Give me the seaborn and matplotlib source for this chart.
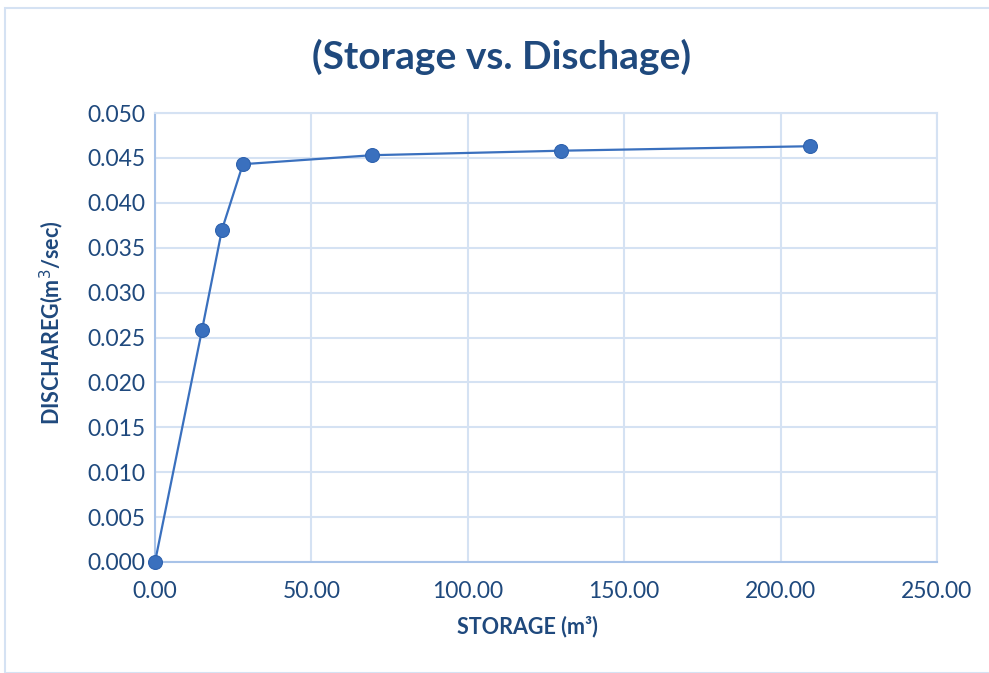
import matplotlib
matplotlib.use("Agg")
import matplotlib.pyplot as plt
import seaborn as sns
import pandas as pd
from matplotlib.patches import Rectangle

storage = [0.0, 15.0, 21.4, 28.1, 69.4, 129.8, 209.4]
discharge = [0.0, 0.0258, 0.0370, 0.0443, 0.0453, 0.0458, 0.0463]
x_ticks = [0, 50, 100, 150, 200, 250]
y_ticks = [0.000, 0.005, 0.010, 0.015, 0.020, 0.025, 0.030, 0.035, 0.040, 0.045, 0.050]

df = pd.DataFrame({"storage": storage, "discharge": discharge})

sns.set_theme(style="white")
plt.rcParams['font.family'] = ['Lato', 'DejaVu Sans']

TEXT = "#1F497D"
LINE = "#3A70BE"
GRID = "#D5E2F3"
SPINE = "#A8C3E8"

fig = plt.figure(figsize=(9.89, 6.73), dpi=100)
ax = fig.add_axes([155/989, 1-562/673, (937-155)/989, (562-113)/673])

sns.lineplot(data=df, x="storage", y="discharge", ax=ax, color=LINE, linewidth=1.6,
             marker="o", markersize=10, markeredgecolor="#2E62AE", markeredgewidth=0.8,
             zorder=3, clip_on=False)

ax.set_xlim(0, 250)
ax.set_ylim(0, 0.050)
ax.set_xticks(x_ticks)
ax.set_yticks(y_ticks)
ax.set_xticklabels([f"{v:.2f}" for v in x_ticks])
ax.set_yticklabels([f"{v:.3f}" for v in y_ticks])
ax.grid(True, color=GRID, linewidth=1.5)
ax.set_axisbelow(True)
for s in ["top", "right"]:
    ax.spines[s].set_color(GRID)
    ax.spines[s].set_linewidth(1.5)
for s in ["left", "bottom"]:
    ax.spines[s].set_color(SPINE)
    ax.spines[s].set_linewidth(1.5)
ax.tick_params(axis="y", colors=TEXT, labelsize=16.5, length=0, pad=7)
ax.tick_params(axis="x", colors=TEXT, labelsize=16.5, length=0, pad=14)
for lbl in ax.get_xticklabels() + ax.get_yticklabels():
    lbl.set_color(TEXT)

ax.set_xlabel("STORAGE (m³)", color=TEXT, fontsize=15.5, fontweight="bold")
ax.set_ylabel("DISCHAREG(m$^3$/sec)", color=TEXT, fontsize=15.5, fontweight="bold")
ax.xaxis.set_label_coords((527-155)/782, -(616-562)/449)
ax.yaxis.set_label_coords(-(155-66)/782, (562-323)/449)

fig.text(502/989, 1-57/673, "(Storage vs. Dischage)", ha="center", va="center",
         color=TEXT, fontsize=28, fontweight="bold")

fig.patches.append(Rectangle((5/989, 0), 1, 1-8/673, transform=fig.transFigure,
                             fill=False, edgecolor=GRID, linewidth=1.5))

fig.savefig("out.png", dpi=100)
